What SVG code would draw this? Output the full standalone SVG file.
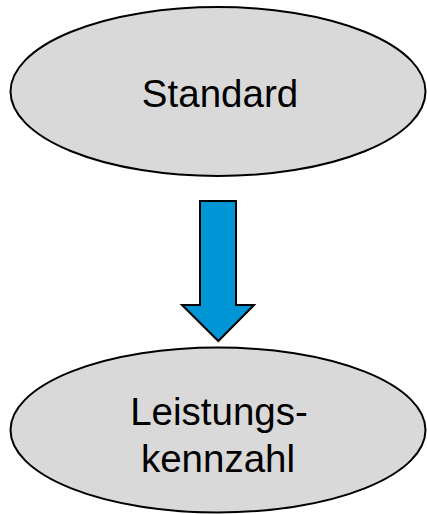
<svg xmlns="http://www.w3.org/2000/svg" width="427" height="514" viewBox="0 0 427 514">
<style>
.node{fill:#d9d9d9;stroke:#000;stroke-width:2}
.lbl{font-family:"Liberation Sans",Arial,sans-serif;font-size:38.5px;fill:#000;text-anchor:middle}
.arrow{fill:#0096d6;stroke:#000;stroke-width:2;stroke-linejoin:miter}
</style>
<rect width="427" height="514" fill="#fff"/>
<g id="node-standard">
<ellipse class="node" cx="218" cy="91.5" rx="207.5" ry="84.5"/>
<text class="lbl" x="220" y="107">Standard</text>
</g>
<g id="connectors">
<polygon class="arrow" points="200,201 236,201 236,305 254,305 218.3,341 182,305 200,305"/>
</g>
<g id="node-leistungskennzahl">
<ellipse class="node" cx="218" cy="430" rx="207.5" ry="82.5"/>
<text class="lbl" x="219" y="425">Leistungs-</text>
<text class="lbl" x="218" y="472">kennzahl</text>
</g>
</svg>
